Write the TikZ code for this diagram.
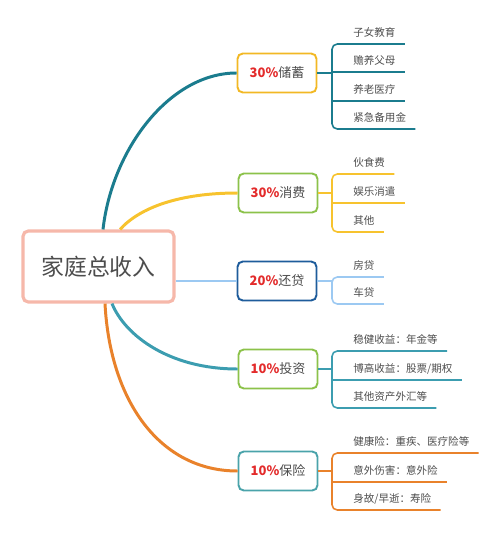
\documentclass[tikz,border=0pt]{standalone}
\usepackage{fontspec}
\setmainfont{Noto Sans CJK SC}
\usetikzlibrary{calc}

\definecolor{pinkB}{HTML}{F6B8AA}
\definecolor{goldB}{HTML}{F2B824}
\definecolor{greenB}{HTML}{8CC24A}
\definecolor{navyB}{HTML}{1E5C9B}
\definecolor{tealB}{HTML}{4AA3AA}
\definecolor{tealD}{HTML}{1B7C8E}
\definecolor{yelC}{HTML}{F7C32E}
\definecolor{lblue}{HTML}{9CC9F2}
\definecolor{tealC}{HTML}{3C9DB0}
\definecolor{orgC}{HTML}{E9822B}
\definecolor{pctred}{HTML}{E32B2B}
\definecolor{txtgray}{HTML}{4D4D4D}

\newcommand{\share}[1]{{\bfseries\color{pctred}#1}}

\begin{document}
\begin{tikzpicture}[
  x=0.02cm, y=-0.02cm,
  root/.style={draw=pinkB, line width=1.8pt, rounded corners=3pt, fill=white, minimum width=3.02cm, minimum height=1.42cm, font=\fontsize{13}{15}\selectfont, text=txtgray},
  part/.style={draw=#1, line width=1.1pt, rounded corners=3pt, fill=white, minimum width=1.58cm, minimum height=0.78cm, font=\fontsize{7.4}{9}\selectfont, text=txtgray},
  leaf/.style={anchor=south west, inner xsep=0.18cm, inner ysep=3pt, text height=5pt, text depth=1pt, font=\fontsize{6}{7}\selectfont, text=txtgray},
  link/.style={draw=#1, line width=1.7pt},
  twig/.style={draw=#1, line width=0.9pt, rounded corners=3pt}
]
\useasboundingbox (0,0) rectangle (500,534);

\node[root] (rt) at (98.5,266.5) {家庭总收入};

\node[part=goldB] (cx) at (277,73) {\share{30\%}储蓄};
\node[part=greenB] (xf) at (278,193) {\share{30\%}消费};
\node[part=navyB] (hd) at (277,281) {\share{20\%}还贷};
\node[part=greenB] (tz) at (278,369) {\share{10\%}投资};
\node[part=tealB] (bx) at (278,471) {\share{10\%}保险};

% main branches
\draw[link=tealD] ($(rt.north)+(4.5,0)$) .. controls +(9,-80) and +(-67,0) .. (cx.west);
\draw[link=yelC] ($(rt.north)+(21.5,0)$) .. controls +(20,-22) and +(-58,0) .. (xf.west);
\draw[link=lblue] (rt.east |- hd.west) -- (hd.west);
\draw[link=tealC] ($(rt.south)+(13.5,0)$) .. controls +(13,32) and +(-68,0) .. (tz.west);
\draw[link=orgC] ($(rt.south)+(6.5,0)$) .. controls +(5,97) and +(-78,0) .. (bx.west);

% 储蓄
\node[leaf] (cx1) at (344,44) {子女教育};
\node[leaf] (cx2) at (344,72) {赡养父母};
\node[leaf] (cx3) at (344,101) {养老医疗};
\node[leaf] (cx4) at (344,129) {紧急备用金};
\coordinate (cxT) at (332,73);
\draw[twig=tealD] (cx.east) -- (cxT);
\draw[twig=tealD] (cx1.south east) -- (cx1.south -| cxT) -- (cx4.south -| cxT) -- (cx4.south east);
\foreach \n in {cx2,cx3}
  \draw[twig=tealD] (\n.south -| cxT) -- (\n.south east);

% 消费
\node[leaf] (xf1) at (344,174) {伙食费};
\node[leaf] (xf2) at (344,203) {娱乐消遣};
\node[leaf] (xf3) at (344,232) {其他};
\coordinate (xfT) at (332,193);
\draw[twig=yelC] (xf.east) -- (xfT);
\draw[twig=yelC] (xf1.south east) -- (xf1.south -| xfT) -- (xf3.south -| xfT) -- (xf3.south east);
\draw[twig=yelC] (xf2.south -| xfT) -- (xf2.south east);

% 还贷
\node[leaf] (hd1) at (344,277) {房贷};
\node[leaf] (hd2) at (344,304) {车贷};
\coordinate (hdT) at (332,281);
\draw[twig=lblue] (hd.east) -- (hdT);
\draw[twig=lblue] (hd1.south east) -- (hd1.south -| hdT) -- (hd2.south -| hdT) -- (hd2.south east);

% 投资
\node[leaf] (tz1) at (344,351) {稳健收益：年金等};
\node[leaf] (tz2) at (344,380) {博高收益：股票/期权};
\node[leaf] (tz3) at (344,408) {其他资产外汇等};
\coordinate (tzT) at (332,369);
\draw[twig=tealC] (tz.east) -- (tzT);
\draw[twig=tealC] (tz1.south east) -- (tz1.south -| tzT) -- (tz3.south -| tzT) -- (tz3.south east);
\draw[twig=tealC] (tz2.south -| tzT) -- (tz2.south east);

% 保险
\node[leaf] (bx1) at (344,453) {健康险：重疾、医疗险等};
\node[leaf] (bx2) at (344,482) {意外伤害：意外险};
\node[leaf] (bx3) at (344,510) {身故/早逝：寿险};
\coordinate (bxT) at (332,471);
\draw[twig=orgC] (bx.east) -- (bxT);
\draw[twig=orgC] (bx1.south east) -- (bx1.south -| bxT) -- (bx3.south -| bxT) -- (bx3.south east);
\draw[twig=orgC] (bx2.south -| bxT) -- (bx2.south east);

\end{tikzpicture}
\end{document}
